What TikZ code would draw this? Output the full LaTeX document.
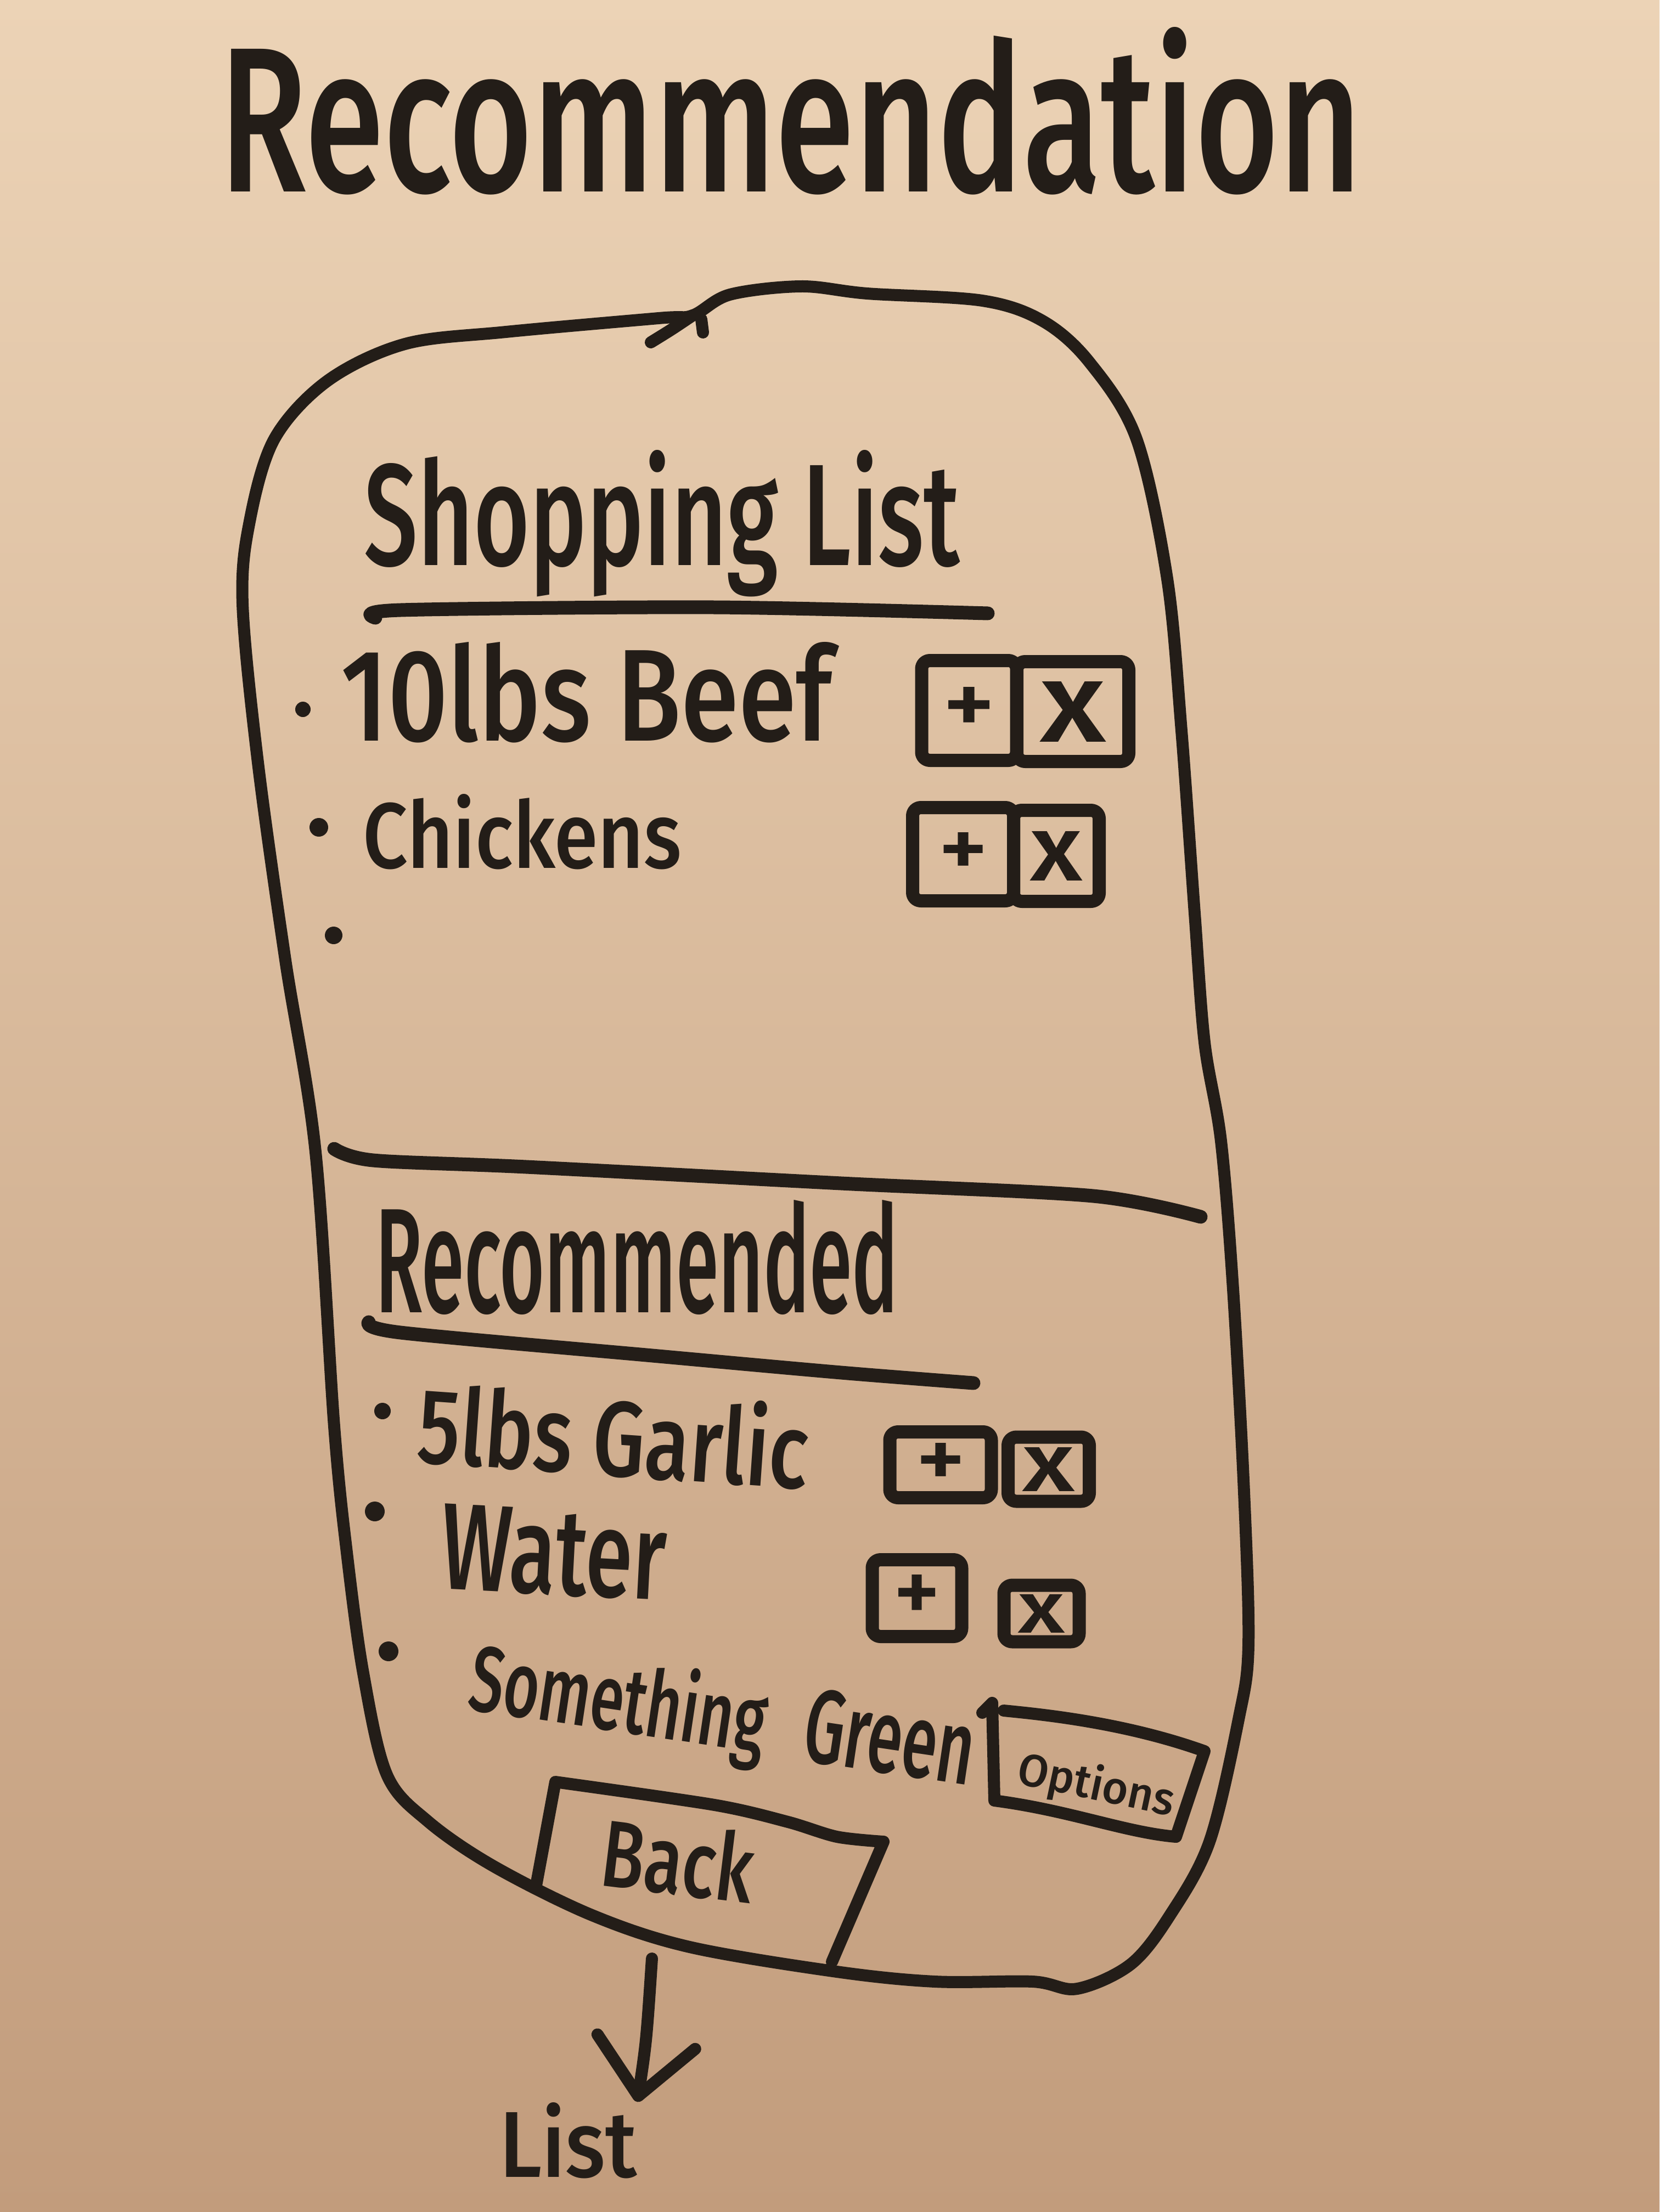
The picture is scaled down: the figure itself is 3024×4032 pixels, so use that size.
\documentclass[tikz,border=0pt]{standalone}
\usepackage{fontspec}
\usepackage{graphicx}
\setmainfont{Fira Sans Medium}
\usetikzlibrary{arrows.meta}

\definecolor{ink}{HTML}{231D18}
\definecolor{boardtop}{HTML}{ECD3B6}
\definecolor{boardmid}{HTML}{E0C0A2}
\definecolor{boardbot}{HTML}{C29C7C}

% scale a piece of text to a given width and height (in mm)
\newcommand\fitbox[3]{\resizebox{#1mm}{#2mm}{#3}}

\begin{document}
\begin{tikzpicture}[x=0.1mm, y=-0.1mm, line cap=round, line join=round,
  marker/.style={draw=ink, line width=2.2mm},
  rule/.style={draw=ink, line width=2.5mm},
  txt/.style={inner sep=0pt, text=ink, anchor=base west},
  btn/.style={draw=ink, line width=2.4mm, inner sep=0pt, rounded corners=1.5mm,
              text=ink},
  bullet/.style={circle, fill=ink, inner sep=0pt, minimum size=#1},
  bullet/.default=3mm]

% whiteboard
\useasboundingbox (0,0) rectangle (3024,4032);
\shade[top color=boardtop, middle color=boardmid, bottom color=boardbot]
  (0,0) rectangle (3024,4032);

% heading
\node[txt] (title) at (400,350) {\fitbox{208}{30}{Recommendation}};

% phone outline
\draw[marker] plot[smooth cycle, tension=0.55] coordinates {
  (1262,575) (1330,537) (1460,522) (1580,535) (1790,548) (1900,585)
  (1985,660) (2071,800) (2127,1055) (2153,1332) (2177,1665) (2195,1900)
  (2225,2080) (2247,2350) (2267,2720) (2275,3000) (2257,3134) (2204,3357)
  (2132,3491) (2061,3580) (1963,3625) (1882,3612) (1704,3612) (1525,3594)
  (1257,3549) (1079,3491) (900,3402) (780,3320) (705,3235) (662,3050)
  (632,2830) (609,2600) (575,2100) (520,1750) (470,1390) (442,1100)
  (455,950) (500,800) (597,694) (738,627) (922,605) (1200,580)};
\draw[marker] (1186,624) .. controls (1225,600) .. (1262,575);
\draw[marker] (1278,582) -- (1281,606);

% shopping list section
\node[txt] (shop) at (663,1030) {\fitbox{108.5}{21}{Shopping List}};
\draw[rule] plot[smooth] coordinates {(684,1126) (730,1112) (1302,1107) (1800,1118)};

\node[bullet=2.8mm] (b1) at (552,1293) {};
\node[txt] (beef) at (621,1350) {\fitbox{89.5}{18}{10lbs Beef}};
\node[btn, minimum width=17.3mm, minimum height=18.2mm] (add1) at (1766,1295) {\fitbox{9.5}{8.5}{+}};
\node[btn, minimum width=20.4mm, minimum height=18.2mm] (del1) at (1955,1297) {\fitbox{12}{11}{x}};

\node[bullet=3.4mm] (b2) at (581,1508) {};
\node[txt] (chicken) at (661,1582) {\fitbox{58}{13.5}{Chickens}};
\node[btn, minimum width=18.4mm, minimum height=17mm] (add2) at (1755,1557) {\fitbox{9}{8}{+}};
\node[btn, minimum width=15.6mm, minimum height=16.6mm] (del2) at (1925,1560) {\fitbox{9.5}{9}{x}};

\node[bullet=3.2mm] (b3) at (608,1705) {};

% divider between sections
\draw[rule] plot[smooth] coordinates {(609,2094) (680,2115) (959,2127) (1533,2157) (1992,2180) (2188,2218)};

% recommended section
\node[txt] (recd) at (684,2392) {\fitbox{95.2}{20.5}{Recommended}};
\draw[rule] plot[smooth] coordinates {(672,2410) (730,2429) (1189,2471) (1533,2502) (1774,2521)};

\node[bullet=3mm] (b4) at (697,2572) {};
\node[txt, rotate=-4] (garlic) at (757,2665) {\fitbox{71.3}{15.5}{5lbs Garlic}};
\node[btn, minimum width=18.5mm, minimum height=12mm] (add3) at (1714,2670) {\fitbox{9}{8}{+}};
\node[btn, minimum width=14.8mm, minimum height=11.7mm] (del3) at (1911,2678) {\fitbox{9.5}{8}{x}};

\node[bullet=3.6mm] (b5) at (683,2755) {};
\node[txt, rotate=-3] (water) at (800,2895) {\fitbox{41}{15.5}{Water}};
\node[btn, minimum width=16.3mm, minimum height=14mm] (add4) at (1671,2913) {\fitbox{8.5}{8.5}{+}};
\node[btn, minimum width=13.7mm, minimum height=10.3mm] (del4) at (1898,2941) {\fitbox{8.5}{7}{x}};

\node[bullet=3.6mm] (b6) at (708,3010) {};
\node[txt, rotate=-8.5] (something) at (849,3115) {\fitbox{54.5}{13.5}{Something}};
\node[txt, rotate=-8.5] (green) at (1458,3208) {\fitbox{31}{13.5}{Green}};

% options button
\node[txt, rotate=-12] (options) at (1850,3250) {\fitbox{29}{6.6}{Options}};
\draw[marker] (1790,3122) -- (1808,3104) -- (1812,3282)
  .. controls (1950,3300) and (2050,3340) .. (2143,3348) -- (2195,3192)
  .. controls (2050,3140) and (1900,3125) .. (1829,3118);

% back button
\node[txt, rotate=-7] (back) at (1090,3436) {\fitbox{27.7}{13}{Back}};
\draw[marker] (976,3442) -- (1012,3248) plot[smooth] coordinates {(1012,3248) (1302,3290) (1436,3321) (1525,3348) (1610,3357)} -- (1516,3576);

% navigation target
\node[txt] (list) at (910,3968) {\fitbox{25}{13.6}{List}};
\coordinate (navstart) at (1188,3570);
\draw[marker, -{Straight Barb[length=10mm, width=18mm, round]}]
  (navstart) .. controls (1178,3720) .. (list.north east);

\end{tikzpicture}
\end{document}
